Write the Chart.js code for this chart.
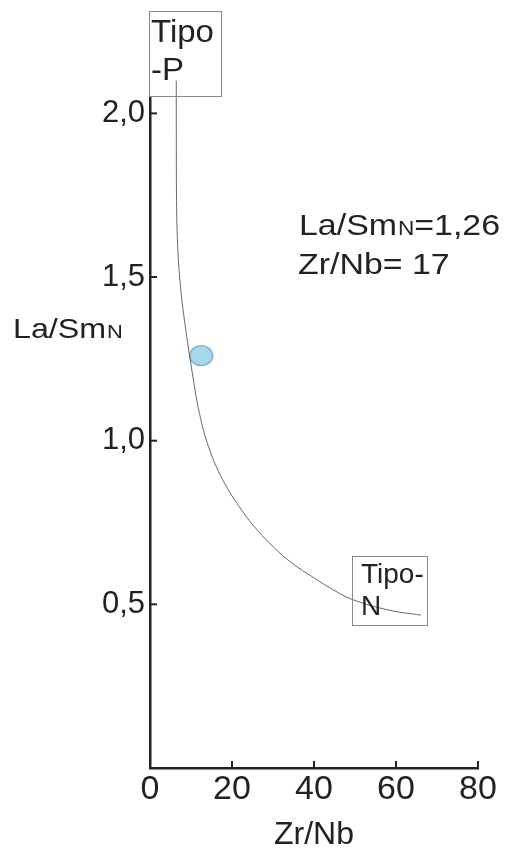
<!DOCTYPE html>
<html>
<head>
<meta charset="utf-8">
<script src="https://cdn.jsdelivr.net/npm/chart.js@4.4.1/dist/chart.umd.min.js"></script>
<style>
  html,body{margin:0;padding:0;background:#fff;}
  canvas{display:block;}
</style>
</head>
<body>
<canvas id="myChart" width="506" height="850"></canvas>
<script>
// curva Tipo-P -> Tipo-N
var curveX=[6.4,6.42,6.48,6.7,7.3,8.4,10.6,12.07,14.3,17.8,22.4,26.3,30.4,34.4,40.1,44.6,49.3,58.4,66.1];
var curveY=[2.10,1.90,1.73,1.61,1.49,1.368,1.185,1.083,0.981,0.879,0.787,0.725,0.672,0.628,0.580,0.545,0.515,0.482,0.467];
// amostra
var sampleX=[12.5];
var sampleY=[1.26];
var xTicks=[0,20,40,60,80];
var yTicks=[0.5,1.0,1.5,2.0];
var xTitle="Zr/Nb";
var yTitle=["La/Sm","N"];
var tipoP=["Tipo","-P"];
var tipoN=["Tipo-","N"];
var note1=["La/Sm","N","=1,26"];
var note2="Zr/Nb= 17";

var FONT='"Liberation Sans", Arial, Helvetica, sans-serif';
var INK='#222';

function txt(ctx,s,x,y,size,sx){
  sx=sx||1;
  ctx.save();
  ctx.font=size+'px '+FONT;
  ctx.fillStyle=INK;
  ctx.textBaseline='alphabetic';
  ctx.translate(x,y);
  ctx.scale(sx,1);
  ctx.fillText(s,0,0);
  var w=ctx.measureText(s).width*sx;
  ctx.restore();
  return w;
}

// ponto azul (elipse)
var dot=document.createElement('canvas');
dot.width=26; dot.height=23;
(function(){
  var c=dot.getContext('2d');
  c.beginPath();
  c.ellipse(13,11.5,11.5,10,0,0,Math.PI*2);
  c.fillStyle='#a6d8ee';
  c.fill();
  c.lineWidth=1.2;
  c.strokeStyle='#7aa6bd';
  c.stroke();
})();

var extras={
  id:'extras',
  afterDraw:function(chart){
    var ctx=chart.ctx, xs=chart.scales.x, ys=chart.scales.y, a=chart.chartArea;
    ctx.save();
    // ticks para dentro
    ctx.strokeStyle=INK; ctx.lineWidth=2;
    yTicks.forEach(function(v){
      var p=ys.getPixelForValue(v);
      ctx.beginPath(); ctx.moveTo(a.left,p); ctx.lineTo(a.left+7,p); ctx.stroke();
    });
    xTicks.forEach(function(v){
      if(v===0) return;
      var p=xs.getPixelForValue(v);
      ctx.beginPath(); ctx.moveTo(p,a.bottom); ctx.lineTo(p,a.bottom-7); ctx.stroke();
    });
    // caixas
    ctx.strokeStyle='#8a8a8a'; ctx.lineWidth=1;
    ctx.strokeRect(149.5,11.5,72,85);
    ctx.strokeRect(352.5,556.5,75,69);
    ctx.restore();

    txt(ctx,tipoP[0],151,42,32,1.03);
    txt(ctx,tipoP[1],151,80,32,1.03);
    txt(ctx,tipoN[0],361,583,28,1.0);
    txt(ctx,tipoN[1],361,615,28,1.0);

    // titulo do eixo y
    var w=txt(ctx,yTitle[0],13,338,28,1.15);
    txt(ctx,yTitle[1],13+w+1,338,19,1.15);

    // anotacao
    var x=299;
    x+=txt(ctx,note1[0],x,235,30,1.13);
    x+=txt(ctx,note1[1],x+1,235,20,1.13)+1;
    txt(ctx,note1[2],x,235,30,1.13);
    txt(ctx,note2,298,274,30,1.13);
  }
};

var ctx=document.getElementById('myChart');
var myChart=new Chart(ctx,{
  type:'scatter',
  data:{
    datasets:[
      {
        data:curveX.map(function(v,i){return {x:v,y:curveY[i]};}),
        showLine:true,
        pointRadius:0,
        borderColor:'#666',
        borderWidth:1,
        tension:0.4,
        clip:false
      },
      {
        data:sampleX.map(function(v,i){return {x:v,y:sampleY[i]};}),
        pointStyle:dot,
        pointRadius:11,
        clip:false
      }
    ]
  },
  plugins:[extras],
  options:{
    responsive:false,
    animation:false,
    devicePixelRatio:1,
    layout:{padding:{top:97,right:28,left:0,bottom:0}},
    plugins:{legend:{display:false},tooltip:{enabled:false},title:{display:false}},
    scales:{
      x:{
        type:'linear',
        min:0,max:80,
        afterFit:function(s){s.height=82;},
        afterBuildTicks:function(s){s.ticks=xTicks.map(function(v){return {value:v};});},
        grid:{display:false,drawTicks:false},
        border:{display:true,color:INK,width:2.5},
        ticks:{color:INK,padding:1,font:{family:FONT,size:34},maxRotation:0},
        title:{display:true,text:xTitle,color:INK,font:{family:FONT,size:32},padding:{top:0,bottom:-4}}
      },
      y:{
        type:'linear',
        min:0,max:2.05,
        afterFit:function(s){s.width=150;},
        afterBuildTicks:function(s){s.ticks=yTicks.map(function(v){return {value:v};});},
        grid:{display:false,drawTicks:false},
        border:{display:true,color:INK,width:2.5},
        ticks:{color:INK,padding:5,font:{family:FONT,size:31},
          callback:function(v){return v.toFixed(1).replace('.',',');}}
      }
    }
  }
});
</script>
</body>
</html>
